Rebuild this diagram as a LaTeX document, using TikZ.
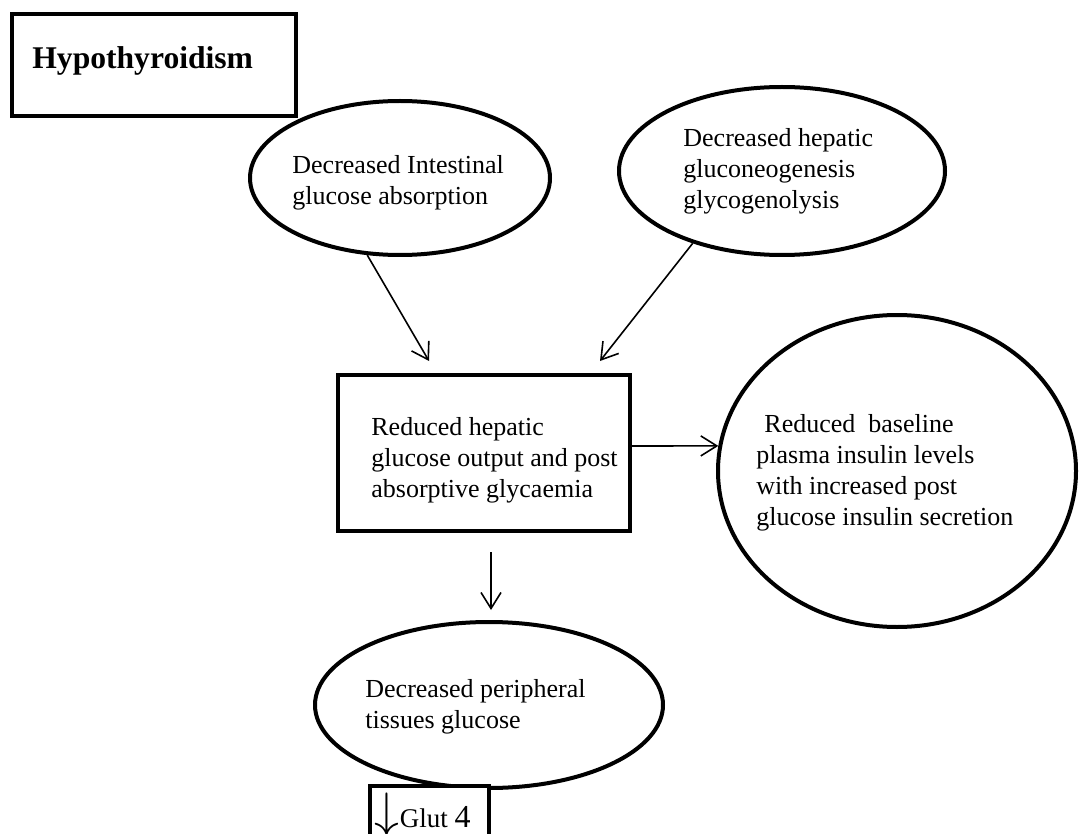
\documentclass[tikz,border=0pt]{standalone}
\usepackage{fontspec}
\setmainfont{Liberation Serif}
\usetikzlibrary{arrows.meta,shapes.geometric}
\tikzset{>={Straight Barb[length=8pt,width=10pt]}}
\tikzset{
  ovalnode/.style={ellipse,draw,line width=2pt,inner sep=0pt},
  blockbox/.style={rectangle,draw,line width=2pt,fill=white,inner sep=0pt},
  notetext/.style={inner sep=0pt,align=left,anchor=west,
    font=\fontsize{13}{15.5}\selectfont},
  link/.style={->,line width=.8pt}
}

\begin{document}
\begin{tikzpicture}[x=.5pt,y=-.5pt]
\useasboundingbox (0,0) rectangle (1081,834);
\node[ovalnode,minimum width=150pt,minimum height=77pt] (intest) at (400,178) {};
\node[ovalnode,minimum width=163pt,minimum height=84pt] (hepat) at (782,171) {};
\node[ovalnode,minimum width=179pt,minimum height=156pt] (insul) at (897,471) {};
\node[ovalnode,minimum width=174pt,minimum height=83pt] (periph) at (489,705) {};
\node[blockbox,minimum width=142pt,minimum height=51pt] (hypo) at (154,65) {};
\node[blockbox,minimum width=146pt,minimum height=78pt] (output) at (484,453) {};
\node[blockbox,minimum width=59.5pt,minimum height=29pt] (glut) at (429.5,815) {};

\node[font=\bfseries\fontsize{15.8}{18}\selectfont,inner sep=0pt,anchor=base west]
  (hypotext) at (32,69) {Hypothyroidism};
\node[notetext] (intesttext) at ([shift={(-108,5)}]intest)
  {Decreased Intestinal\\glucose absorption};
\node[notetext] (hepattext) at ([shift={(-99,0)}]hepat)
  {Decreased hepatic\\gluconeogenesis\\glycogenolysis};
\node[notetext] (insultext) at ([shift={(-141,2)}]insul)
  {\hspace*{4pt}Reduced\ \ baseline\\plasma insulin levels\\with increased post\\glucose insulin secretion};
\node[notetext] (periphtext) at ([shift={(-124,2)}]periph)
  {Decreased peripheral\\tissues glucose};
\node[notetext] (outputtext) at ([shift={(-113,7)}]output)
  {Reduced hepatic\\glucose output and post\\absorptive glycaemia};
\node[notetext,font=\fontsize{13.5}{16}\selectfont] (gluttext) at ([shift={(-55,0)}]glut)
  {{\fontsize{24}{24}\selectfont$\downarrow$}Glut {\fontsize{16}{16}\selectfont 4}};

\draw[link] (intest.247) -- ([shift={(-55,-12)}]output.north);
\draw[link] (hepat.219) -- ([shift={(116,-12)}]output.north);
\draw[link] ([shift={(0,-7)}]output.east) -- (insul.172);
\draw[link] ([shift={(7,19)}]output.south) -- ([shift={(2,-10)}]periph.north);
\end{tikzpicture}
\end{document}
